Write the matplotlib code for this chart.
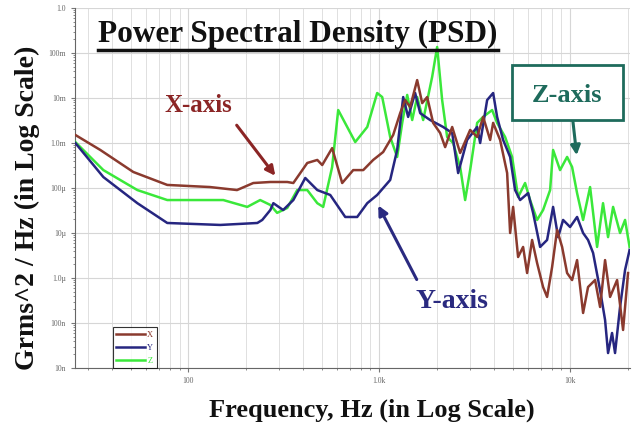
import matplotlib
matplotlib.use('Agg')
import matplotlib.pyplot as plt
import numpy as np
from matplotlib.lines import Line2D
from matplotlib.patches import Rectangle
from matplotlib.ticker import FixedLocator, LogLocator, NullFormatter

# frequency (Hz) / PSD (Grms^2/Hz)
x_freq = [25.6, 34.6, 51.5, 77.6, 130, 180, 219, 269, 330, 355, 420, 474, 503, 567, 640, 731,
          825, 930, 1049, 1184, 1288, 1368, 1453, 1581, 1680, 1784, 1917, 2086, 2216, 2412,
          2656, 2996, 3260, 3504, 3813, 3953, 4300, 4680, 4852, 5030, 5342, 5674, 5955, 6324,
          6718, 7220, 7578, 8050, 8550, 9082, 9646, 10245, 10880, 11700, 12420, 13520, 14360,
          15250, 16200, 17630, 18950, 20120]
x_psd = [1.51e-3, 7.0e-4, 2.27e-4, 1.17e-4, 1.05e-4, 9.0e-5, 1.29e-4, 1.36e-4, 1.36e-4, 1.29e-4,
         3.6e-4, 4.2e-4, 3.24e-4, 7.7e-4, 1.29e-4, 2.5e-4, 2.5e-4, 4.2e-4, 6.3e-4, 1.51e-3,
         4.6e-3, 9.0e-3, 6.3e-3, 2.5e-2, 7.7e-3, 1.05e-2, 2.8e-3, 1.67e-3, 8.1e-4, 2.27e-3,
         6.0e-4, 1.95e-3, 1.36e-3, 3.8e-3, 1.17e-3, 2.8e-3, 1.17e-3, 2.15e-4, 1.0e-5, 3.8e-5,
         2.93e-6, 4.9e-6, 1.29e-6, 7.0e-6, 2.15e-6, 6.3e-7, 3.8e-7, 1.75e-6, 1.17e-5, 4.9e-6,
         1.29e-6, 9.0e-7, 2.5e-6, 1.67e-7, 6.3e-7, 9.0e-7, 2.27e-7, 2.5e-6, 3.8e-7, 9.0e-7,
         7.0e-8, 1.29e-6]

y_freq = [25.6, 35.9, 54.1, 77.6, 147, 230, 244, 269, 279, 314, 355, 410, 474, 554, 664, 767,
          866, 976, 1142, 1242, 1336, 1418, 1543, 1640, 1849, 2163, 2412, 2592, 2888, 3260,
          3380, 3677, 3953, 4147, 4459, 4852, 5152, 5472, 6028, 6402, 6966, 7578, 8147, 8656,
          9192, 10000, 10880, 11700, 12420, 13200, 14360, 15250, 15810, 16590, 17200, 18270,
          19410, 20500]
y_psd = [1.0e-3, 1.75e-4, 4.6e-5, 1.67e-5, 1.51e-5, 1.67e-5, 1.95e-5, 3.24e-5, 4.6e-5, 3.24e-5,
         5.4e-5, 1.67e-4, 9.0e-5, 7.0e-5, 2.27e-5, 2.27e-5, 4.6e-5, 7.0e-5, 1.51e-4, 7.0e-4,
         1.05e-2, 3.8e-3, 1.29e-2, 4.6e-3, 3.24e-3, 2.27e-3, 1.67e-3, 2.15e-4, 1.17e-3, 2.27e-3,
         1.0e-3, 9.0e-3, 1.29e-2, 3.8e-3, 1.17e-3, 4.9e-4, 9.0e-5, 5.4e-5, 7.7e-5, 2.8e-5,
         4.9e-6, 7.0e-6, 3.8e-5, 8.1e-6, 1.95e-5, 1.36e-5, 2.27e-5, 1.0e-5, 7.0e-6, 3.6e-6,
         5.4e-7, 1.17e-7, 2.15e-8, 6.0e-8, 2.15e-8, 2.27e-7, 1.51e-6, 4.2e-6]

z_freq = [25.6, 35.9, 54.1, 77.6, 152.5, 203.6, 238, 269, 292, 330, 372, 420, 474, 509, 567, 610,
          680, 749, 866, 976, 1037, 1142, 1242, 1320, 1402, 1489, 1581, 1700, 1894, 2012, 2137,
          2270, 2440, 2656, 2820, 2996, 3260, 3504, 3905, 4147, 4567, 4970, 5342, 5812, 6174,
          6718, 7220, 7859, 8147, 8862, 9646, 10245, 10880, 11700, 12730, 13850, 14880, 15810,
          16800, 18270, 19410, 20500]
z_psd = [1.05e-3, 2.5e-4, 9.0e-5, 5.4e-5, 5.4e-5, 3.8e-5, 5.4e-5, 4.2e-5, 2.8e-5, 3.6e-5,
         9.0e-5, 9.0e-5, 4.6e-5, 3.8e-5, 2.93e-4, 5.4e-3, 2.27e-3, 1.05e-3, 2.27e-3, 1.29e-2,
         1.05e-2, 1.36e-3, 4.9e-4, 2.8e-3, 1.17e-2, 3.24e-3, 1.05e-2, 3.24e-3, 2.93e-2, 0.136,
         9.0e-3, 1.36e-3, 1.0e-3, 2.93e-4, 5.4e-5, 2.5e-4, 2.8e-3, 3.8e-3, 5.4e-3, 2.8e-3,
         1.36e-3, 4.9e-4, 6.3e-5, 1.29e-4, 5.4e-5, 1.95e-5, 3.24e-5, 9.0e-5, 7.0e-4, 2.5e-4,
         4.9e-4, 2.93e-4, 7.7e-5, 1.95e-5, 1.05e-4, 4.9e-6, 4.6e-5, 8.1e-6, 3.8e-5, 1.0e-5,
         1.95e-5, 4.9e-6]

y_ticks = [1e-8, 1e-7, 1e-6, 1e-5, 1e-4, 1e-3, 1e-2, 1e-1, 1.0]
y_tick_labels = ['10n', '100n', '1.0µ', '10µ', '100µ', '1.0m', '10m', '100m', '1.0']
x_ticks = [100, 1000, 10000]
x_tick_labels = ['100', '1.0k', '10k']

c_x = '#8a3a2e'
c_y = '#262680'
c_z = '#3ae83a'

plt.rcParams['font.family'] = ['Liberation Serif', 'DejaVu Serif']

fig = plt.figure(figsize=(6.34, 4.32), dpi=100)
ax = fig.add_axes([75/634, 1-368/432, 555/634, 360/432])

ax.plot(z_freq, z_psd, color=c_z, lw=1.8, label='Z', zorder=3)
ax.plot(y_freq, y_psd, color=c_y, lw=1.8, label='Y', zorder=4)
ax.plot(x_freq, x_psd, color=c_x, lw=1.8, label='X', zorder=5)

ax.set_xscale('log')
ax.set_yscale('log')
ax.set_xlim(25.5, 20600)
ax.set_ylim(1e-8, 1.0)

ax.xaxis.set_major_locator(FixedLocator(x_ticks))
ax.set_xticklabels(x_tick_labels)
ax.xaxis.set_minor_locator(LogLocator(base=10, subs=np.arange(2, 10), numticks=20))
ax.xaxis.set_minor_formatter(NullFormatter())
ax.yaxis.set_major_locator(FixedLocator(y_ticks))
ax.set_yticklabels(y_tick_labels)
ax.yaxis.set_minor_locator(LogLocator(base=10, subs=np.arange(2, 10), numticks=20))
ax.yaxis.set_minor_formatter(NullFormatter())
ax.tick_params(which='both', labelsize=5.5, labelcolor='#666666', color='#777777', length=3)
ax.tick_params(which='minor', length=1.5)
ax.grid(True, which='major', color='#d6d6d6', lw=0.8)
ax.grid(True, which='minor', axis='x', color='#e0e0e0', lw=0.7)
for s in ['top', 'right']:
    ax.spines[s].set_visible(False)
for s in ['left', 'bottom']:
    ax.spines[s].set_color('#666666')

h, l = ax.get_legend_handles_labels()
leg = ax.legend(h[::-1], l[::-1], loc='lower left', bbox_to_anchor=((113-75)/555, 0.0),
                fontsize=6, handlelength=3.4, frameon=True, fancybox=False, borderaxespad=0,
                labelspacing=0.6, handletextpad=0.3)
leg.get_frame().set_edgecolor('black')
leg.get_frame().set_linewidth(0.8)
for t, c in zip(leg.get_texts(), [c_x, c_y, c_z]):
    t.set_color(c)


def fx(px):
    return px / 634


def fy(py):
    return 1 - py / 432


title = fig.text(fx(298), fy(34), 'Power Spectral Density (PSD)', fontsize=22.5, fontweight='bold',
                 ha='center', va='center', color='#111111')
fig.text(fx(372), fy(410), 'Frequency, Hz (in Log Scale)', fontsize=19, fontweight='bold',
         ha='center', va='center', color='#111111')
fig.text(fx(27), fy(208), 'Grms^2 / Hz (in Log Scale)', fontsize=20, fontweight='bold',
         ha='center', va='center', rotation=90, color='#111111')

fig.text(fx(198), fy(105), 'X-axis', fontsize=18, fontweight='bold', ha='center', va='center', color='#8b2525')
fig.text(fx(452), fy(302), 'Y-axis', fontsize=20, fontweight='bold', ha='center', va='center', color='#2a2a80')
fig.text(fx(567), fy(95), 'Z-axis', fontsize=19, fontweight='bold', ha='center', va='center', color='#1e6b5c')
fig.add_artist(Rectangle((fx(512), fy(120)), (623-512)/634, (120-65)/432, transform=fig.transFigure,
                         fill=True, facecolor='white', edgecolor='#1e6b5c', lw=2, zorder=2))

arrows = [((235, 123), (277, 178), '#8b2525'),
          ((418, 282), (377, 203), '#2a2a80'),
          ((572, 113), (577, 158), '#1e6b5c')]
for (x0, y0), (x1, y1), c in arrows:
    ax.annotate('', xy=(fx(x1), fy(y1)), xytext=(fx(x0), fy(y0)), xycoords='figure fraction',
                textcoords='figure fraction',
                arrowprops=dict(arrowstyle='-|>', color=c, lw=2.2, mutation_scale=14), zorder=10)

# underline the title
fig.canvas.draw()
bb = title.get_window_extent().transformed(fig.transFigure.inverted())
fig.add_artist(Line2D([bb.x0, bb.x1], [bb.y0 - 0.004, bb.y0 - 0.004], transform=fig.transFigure,
                      color='#111111', lw=2.5))

plt.savefig('out.png', dpi=100)
